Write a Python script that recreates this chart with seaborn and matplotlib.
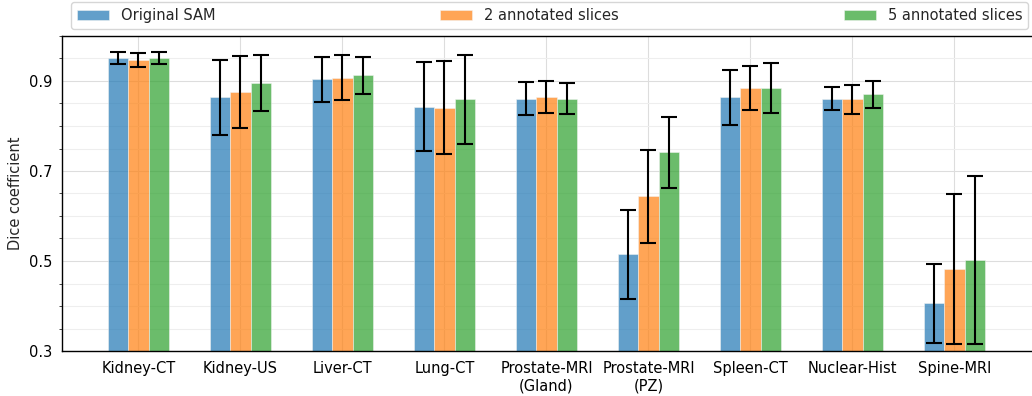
import numpy as np
import pandas as pd
import matplotlib
matplotlib.use("Agg")
import matplotlib.pyplot as plt
import seaborn as sns
from matplotlib.ticker import MultipleLocator

categories = ["Kidney-CT", "Kidney-US", "Liver-CT", "Lung-CT", "Prostate-MRI\n(Gland)",
              "Prostate-MRI\n(PZ)", "Spleen-CT", "Nuclear-Hist", "Spine-MRI"]
series = ["Original SAM", "2 annotated slices", "5 annotated slices"]

orig_mean = [0.951, 0.864, 0.904, 0.843, 0.861, 0.515, 0.864, 0.861, 0.406]
orig_err = [0.014, 0.083, 0.050, 0.099, 0.036, 0.099, 0.061, 0.026, 0.088]
two_mean = [0.947, 0.876, 0.907, 0.841, 0.864, 0.644, 0.885, 0.859, 0.482]
two_err = [0.015, 0.080, 0.050, 0.103, 0.036, 0.103, 0.049, 0.033, 0.166]
five_mean = [0.951, 0.895, 0.913, 0.859, 0.861, 0.742, 0.885, 0.871, 0.502]
five_err = [0.014, 0.062, 0.041, 0.099, 0.034, 0.079, 0.055, 0.030, 0.186]

means = [orig_mean, two_mean, five_mean]
errs = [orig_err, two_err, five_err]

rows = []
for s, m in zip(series, means):
    for c, v in zip(categories, m):
        rows.append({"category": c, "series": s, "dice": v})
df = pd.DataFrame(rows)

sns.set_style("white")
plt.rcParams['font.family'] = ['DejaVu Sans']

fig = plt.figure(figsize=(10.32, 3.96), dpi=100)
ax = fig.add_axes([62/1032, 1 - 351/396, (1036 - 62)/1032, (351 - 36)/396])

palette = ["#1f77b4", "#ff7f0e", "#2ca02c"]
sns.barplot(data=df, x="category", y="dice", hue="series", palette=palette,
            saturation=1, width=0.6, alpha=0.7, errorbar=None, ax=ax, zorder=2,
            edgecolor="#f4f4f4", linewidth=0.5)

# error bars aligned with the seaborn-drawn bars
bar_containers = list(ax.containers)
for i, container in enumerate(bar_containers):
    xs = [p.get_x() + p.get_width() / 2 for p in container.patches]
    ax.errorbar(xs, means[i], yerr=errs[i], fmt="none", ecolor="black",
                elinewidth=1.5, capsize=5.5, capthick=1.5, zorder=3)

ax.set_ylim(0.3, 1.0)
ax.set_xlim(-0.75, 8.8)
ax.yaxis.set_minor_locator(MultipleLocator(0.05))
ax.set_yticks([0.3, 0.5, 0.7, 0.9])
ax.set_yticklabels(["0.3", "0.5", "0.7", "0.9"])
ax.tick_params(axis="both", which="major", length=3.5, width=0.8, labelsize=10.5, colors="black")
ax.tick_params(axis="y", which="minor", length=2, width=0.6, left=True)
ax.grid(True, which="major", color="#dddddd", linewidth=0.8, zorder=0)
ax.grid(True, which="minor", axis="y", color="#eeeeee", linewidth=0.8, zorder=0)
ax.set_axisbelow(True)
ax.set_xlabel("")
ax.set_ylabel("Dice coefficient", fontsize=10.5)
for sp in ax.spines.values():
    sp.set_color("black")
    sp.set_linewidth(1.0)

handles, labels = ax.get_legend_handles_labels()
ax.legend(handles, labels, ncol=3, mode="expand", fontsize=10.5,
          bbox_to_anchor=(71/1032, 1 - 29/396, (1028 - 71)/1032, 26/396),
          bbox_transform=fig.transFigure, loc="lower left", borderaxespad=0,
          handlelength=2.2, frameon=True, fancybox=True, framealpha=0.8,
          edgecolor="#cccccc")

fig.savefig("out.png", dpi=100)
